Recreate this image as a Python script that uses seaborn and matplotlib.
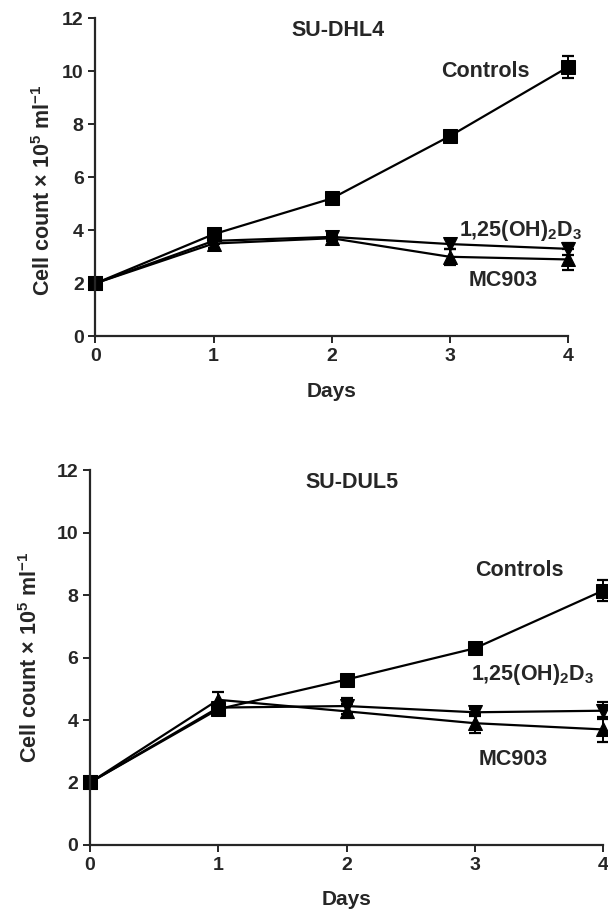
import matplotlib
matplotlib.use('Agg')
import matplotlib.pyplot as plt
import seaborn as sns
import pandas as pd
import numpy as np

days = [0, 1, 2, 3, 4]

# SU-DHL4
dhl4_controls = [2.0, 3.85, 5.2, 7.55, 10.15]
dhl4_controls_err = [0.08, 0.15, 0.2, 0.15, 0.42]
dhl4_vitd = [2.0, 3.6, 3.75, 3.48, 3.3]
dhl4_vitd_err = [0.05, 0.12, 0.1, 0.18, 0.22]
dhl4_mc903 = [2.0, 3.5, 3.7, 3.0, 2.9]
dhl4_mc903_err = [0.05, 0.15, 0.1, 0.3, 0.4]

# SU-DUL5
dul5_controls = [2.0, 4.35, 5.3, 6.3, 8.15]
dul5_controls_err = [0.05, 0.1, 0.1, 0.1, 0.35]
dul5_vitd = [2.0, 4.4, 4.45, 4.25, 4.3]
dul5_vitd_err = [0.05, 0.1, 0.25, 0.12, 0.28]
dul5_mc903 = [2.0, 4.65, 4.28, 3.9, 3.7]
dul5_mc903_err = [0.05, 0.25, 0.22, 0.3, 0.4]

series_names = ['Controls', '1,25(OH)2D3', 'MC903']
marker_map = {'Controls': 's', '1,25(OH)2D3': 'v', 'MC903': '^'}

sns.set_style('ticks')
plt.rcParams['font.family'] = ['Liberation Sans', 'DejaVu Sans']
plt.rcParams['mathtext.fontset'] = 'custom'
plt.rcParams['mathtext.rm'] = 'Liberation Sans:bold'
plt.rcParams['mathtext.it'] = 'Liberation Sans:bold'
plt.rcParams['mathtext.bf'] = 'Liberation Sans:bold'
plt.rcParams['mathtext.default'] = 'bf'

fig = plt.figure(figsize=(6.08, 9.09), dpi=100)
ax1 = fig.add_axes([0.157, 0.630, 0.777, 0.350])
ax2 = fig.add_axes([0.148, 0.0705, 0.844, 0.412])


def draw_panel(ax, vals, errs, title, txt_pos, ylab_xy):
    rows = []
    for name, v in zip(series_names, vals):
        for d, y in zip(days, v):
            rows.append({'Days': d, 'count': y, 'series': name})
    df = pd.DataFrame(rows)
    sns.lineplot(data=df, x='Days', y='count', hue='series', style='series',
                 markers=marker_map, dashes=False, palette=['black'] * 3,
                 markersize=10, linewidth=1.6, markeredgecolor='black',
                 legend=False, ax=ax, errorbar=None)
    for v, e in zip(vals, errs):
        ax.errorbar(days, v, yerr=e, fmt='none', ecolor='black',
                    elinewidth=1.4, capsize=4.5, capthick=1.6, clip_on=False)
    for ln in ax.lines:
        ln.set_clip_on(False)
    for c in ax.collections:
        c.set_clip_on(False)
    ax.set_xlim(0, 4)
    ax.set_ylim(0, 12)
    ax.set_xticks(days)
    ax.set_yticks([0, 2, 4, 6, 8, 10, 12])
    ax.tick_params(direction='out', length=5, width=1.4, labelsize=14)
    for lab in ax.get_xticklabels() + ax.get_yticklabels():
        lab.set_fontweight('bold')
    for s in ['top', 'right']:
        ax.spines[s].set_visible(False)
    for s in ['left', 'bottom']:
        ax.spines[s].set_linewidth(1.6)
    ax.set_xlabel('Days', fontsize=15, fontweight='bold', labelpad=12)
    ax.set_ylabel(r'Cell count $\times$ 10$^{5}$ ml$^{-1}$', fontsize=15.5,
                  fontweight='bold')
    ax.yaxis.set_label_coords(ylab_xy[0], ylab_xy[1])
    ax.text(txt_pos[0][0], txt_pos[0][1], title, fontsize=15.5, fontweight='bold',
            ha='center', va='center')
    ax.text(txt_pos[1][0], txt_pos[1][1], 'Controls', fontsize=15.5,
            fontweight='bold', ha='center', va='center')
    ax.text(txt_pos[2][0], txt_pos[2][1], r'1,25(OH)$_2$D$_3$', fontsize=15.5,
            fontweight='bold', ha='center', va='center')
    ax.text(txt_pos[3][0], txt_pos[3][1], 'MC903', fontsize=15.5,
            fontweight='bold', ha='center', va='center')


draw_panel(ax1, [dhl4_controls, dhl4_vitd, dhl4_mc903],
           [dhl4_controls_err, dhl4_vitd_err, dhl4_mc903_err], 'SU-DHL4',
           [(2.05, 11.55), (3.3, 10.0), (3.6, 4.0), (3.45, 2.1)],
           (-0.086, 0.46))
draw_panel(ax2, [dul5_controls, dul5_vitd, dul5_mc903],
           [dul5_controls_err, dul5_vitd_err, dul5_mc903_err], 'SU-DUL5',
           [(2.04, 11.6), (3.35, 8.8), (3.45, 5.45), (3.3, 2.75)],
           (-0.093, 0.5))

fig.savefig('out.png', dpi=100)
